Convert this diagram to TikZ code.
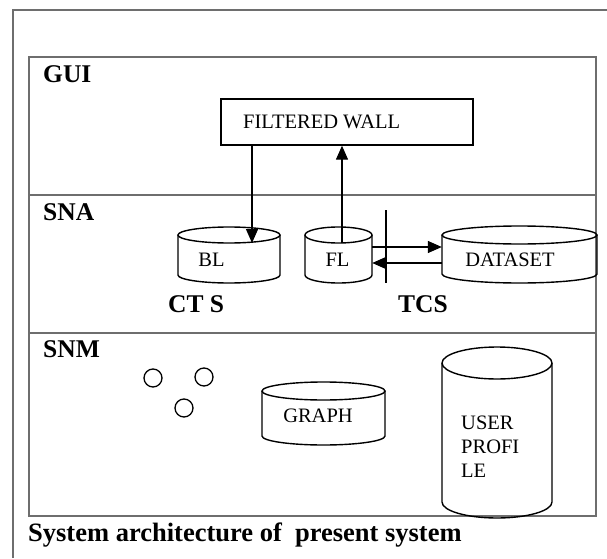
\documentclass[tikz,border=0pt]{standalone}
\usepackage{fontspec}
\setmainfont{Liberation Serif}
\usetikzlibrary{arrows.meta}
\definecolor{framegray}{RGB}{110,110,110}
\tikzset{
  frameline/.style={draw=framegray, line width=1.4pt},
  drumline/.style={draw=black, line width=1.4pt},
  arr/.style={draw=black, line width=1.4pt, -{Triangle[length=14pt,width=12pt]}},
  plain/.style={draw=black, line width=1.4pt},
  lab/.style={font=\fontsize{25.5}{28}\selectfont\bfseries, inner sep=0pt, anchor=base west},
  txt/.style={font=\fontsize{20.5}{23}\selectfont, inner sep=0pt},
  fwbox/.style={draw=black, line width=1.4pt, inner sep=0pt, minimum width=252pt, minimum height=46pt},
  dot/.style={circle, draw=black, line width=1.3pt, minimum size=18pt, inner sep=0pt}
}
% name, cx, topY, width, height, ry
\newcommand{\drum}[6]{%
  \node[inner sep=0pt, minimum width=#4pt, minimum height=#5pt] (#1) at (#2,#3-#5/2) {};
  \draw[drumline] (#2,#3-#6) ellipse [x radius=#4/2, y radius=#6];
  \draw[drumline] (#2-#4/2,#3-#6) -- (#2-#4/2,#3-#5+#6)
     arc[start angle=180, end angle=360, x radius=#4/2, y radius=#6]
     -- (#2+#4/2,#3-#6);
}
\begin{document}
\begin{tikzpicture}[x=1pt,y=1pt]
\useasboundingbox (0,0) rectangle (607,558);
% outer frame (cut off at right and bottom)
\draw[frameline] (13,0) -- (13,548) -- (607,548);
% inner box and layers
\draw[frameline] (29,42) rectangle (596,501);
\draw[frameline] (29,363) -- (596,363);
\draw[frameline] (29,225) -- (596,225);
% layer labels
\node[lab] (gui) at (43,475) {GUI};
\node[lab] (sna) at (43,338) {SNA};
\node[lab] (snm) at (43,201) {SNM};
% filtered wall
\node[fwbox] (fw) at (347,436) {};
\node[txt, font=\fontsize{20.5}{23}\selectfont, anchor=west] (fwt) at (243,436) {FILTERED WALL};
% SNA cylinders
\drum{bl}{229}{331}{102}{56}{8}
\node[txt] (blt) at (211.5,298) {BL};
\drum{fl}{338.5}{331}{67}{56}{8}
\node[txt] (flt) at (337.5,298) {FL};
\drum{ds}{519.5}{332}{155}{57}{9}
\node[txt] (dst) at (510,298) {DATASET};
\node[lab] (cts) at (168,246) {CT S};
\node[lab] (tcs) at (398,246) {TCS};
% vertical separator
\coordinate (sepTop) at (386,348);
\coordinate (sepBot) at (386,275);
\draw[plain] (sepTop) -- (sepBot);
% arrows GUI <-> SNA
\coordinate (blin) at (252,315);
\coordinate (flout) at (342,315);
\draw[arr] (blin |- fw.south) -- (blin);
\draw[arr] (flout) -- (flout |- fw.south);
% FL <-> DATASET
\coordinate (ra) at (0,311);
\coordinate (la) at (0,295);
\draw[arr] (fl.east |- ra) -- (ds.west |- ra);
\draw[arr] (ds.west |- la) -- (fl.east |- la);
% SNM
\node[dot] (c1) at (153,180) {};
\node[dot] (c2) at (204,181) {};
\node[dot] (c3) at (184,150) {};
\drum{gr}{323.5}{176}{123}{63}{9}
\node[txt] (grt) at (318,142) {GRAPH};
\drum{up}{497}{211}{110}{171}{16}
\node[txt, anchor=west, align=left] (upt) at (461,111) {USER\\[1pt]PROFI\\[1pt]LE};
% caption
\node[lab, font=\fontsize{26.5}{30}\selectfont\bfseries] (cap) at (28,17) {System architecture of\ \ present system};
\end{tikzpicture}
\end{document}
